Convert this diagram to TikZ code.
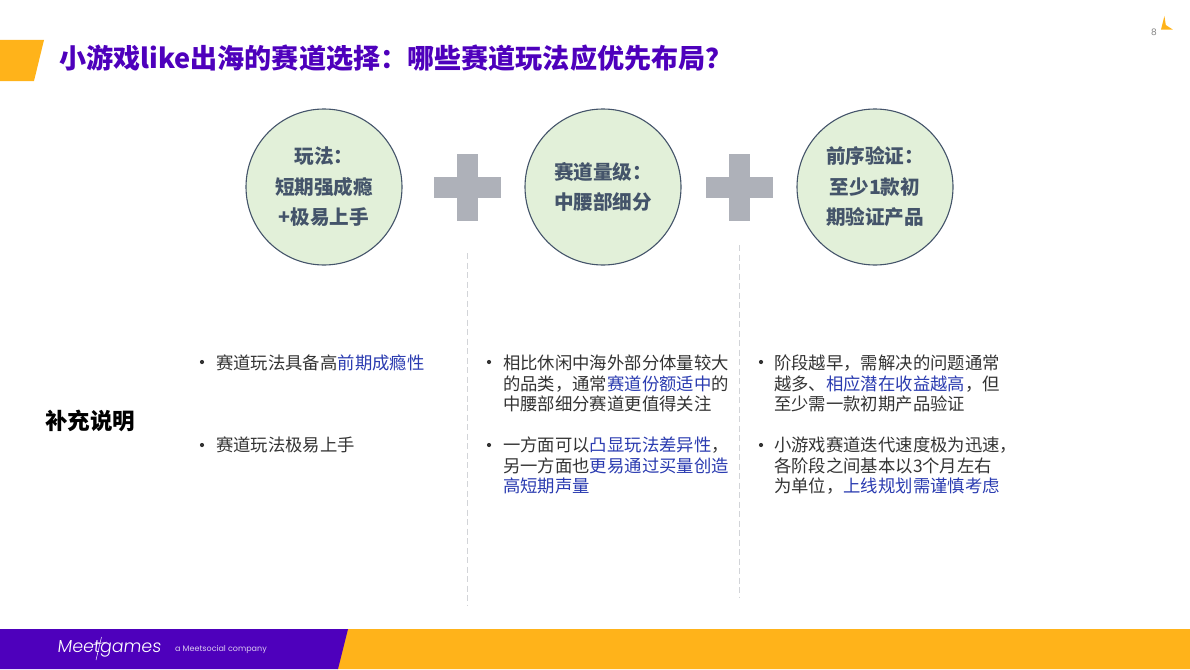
\documentclass[tikz,border=0pt]{standalone}
\usepackage{fontspec}
\setmainfont{Noto Sans CJK SC}
\newfontfamily\lat{Poppins}
\newfontfamily\latlogo[FakeSlant=0.12]{Poppins Light}
\definecolor{purp}{HTML}{4E00BC}
\definecolor{gold}{HTML}{FFB31A}
\definecolor{circfill}{HTML}{E2F0D9}
\definecolor{circline}{HTML}{44546A}
\definecolor{plusc}{HTML}{AEB1B9}
\definecolor{bodyc}{HTML}{333333}
\definecolor{hl}{HTML}{2A3BB0}
\definecolor{dash}{HTML}{D2D4D8}
\newcommand{\hlt}[1]{\textcolor{hl}{#1}}
\tikzset{
 x=1pt,y=-1pt,
 circ/.style={circle,draw=circline,line width=1.1pt,fill=circfill,minimum size=156pt,inner sep=0pt},
 circtext/.style={font=\fontsize{19.6}{30.5}\selectfont\bfseries,text=circline,align=center,inner sep=0pt,anchor=center},
 plusbar/.style={fill=plusc,draw=none},
 sep/.style={draw=dash,line width=0.8pt,dash pattern=on 6pt off 3.5pt},
 bodytext/.style={font=\fontsize{17.35}{20.7}\selectfont,text=bodyc,align=left,inner sep=0pt,anchor=north west},
 bullet/.style={circle,fill=bodyc,minimum size=4.2pt,inner sep=0pt,draw=none},
}
\begin{document}
\begin{tikzpicture}
\useasboundingbox (0,0) rectangle (1190,669);
% header
\fill[gold] (0,40) -- (44,40) -- (34,81) -- (0,81) -- cycle;
\node[anchor=west,inner sep=0pt,text=purp,font=\fontsize{27.1}{30}\selectfont\bfseries] (title) at (59,58) {小游戏like出海的赛道选择：哪些赛道玩法应优先布局？};
\node[inner sep=0pt,text=gray,font=\lat\fontsize{9}{10}\selectfont] (page) at (1154,32) {8};
\fill[gold] (1164.4,16) -- (1165.8,25) -- (1172.8,29.6) -- (1161,29.6) -- cycle;
% footer
\fill[gold] (347,629) -- (1190,629) -- (1190,669) -- (337,669) -- cycle;
\fill[purp] (0,629) -- (348,629) -- (338,669) -- (0,669) -- cycle;
\node[anchor=west,inner sep=0pt,text=white,font=\latlogo\fontsize{17.4}{18}\selectfont] (logo) at (57,648.5) {Meetgames};
\draw[white,line width=0.5pt] (101.5,637) -- (96,660);
\draw[white,line width=0.5pt] (92,645) -- (107,642);
\node[anchor=west,inner sep=0pt,text=white!80!purp,font=\lat\fontsize{8}{9}\selectfont] (tag) at (175,649) {a Meetsocial company};
% circles
\node[circ] (c1) at (324,187) {};
\node[circ] (c2) at (603,187) {};
\node[circ] (c3) at (875,187) {};
\node[circtext] (t1) at (324,187) {玩法：\\短期强成瘾\\+极易上手};
\node[circtext] (t2) at (603,187) {赛道量级：\\中腰部细分};
\node[circtext] (t3) at (875,187) {前序验证：\\至少1款初\\期验证产品};
% plus signs
\fill[plusbar] (434,177) rectangle (501,198);
\fill[plusbar] (457,154) rectangle (478,221);
\fill[plusbar] (706,177) rectangle (773,198);
\fill[plusbar] (729,154) rectangle (750,221);
% separators
\draw[sep] (467.5,253) -- (467.5,605);
\draw[sep] (739.5,245) -- (739.5,598);
% left label
\node[anchor=west,inner sep=0pt,text=black,font=\fontsize{22.5}{24}\selectfont\bfseries] (lab) at (45,421) {补充说明};
% column 1
\node[bullet] (b1) at (202,362) {};
\node[bodytext] (p1) at (216,354.5) {赛道玩法具备高\hlt{前期成瘾性}};
\node[bullet] (b2) at (202,445) {};
\node[bodytext] (p2) at (216,436.5) {赛道玩法极易上手};
% column 2
\node[bullet] (b3) at (489,362) {};
\node[bodytext] (p3) at (503,354.5) {相比休闲中海外部分体量较大\\的品类，通常\hlt{赛道份额适中}的\\中腰部细分赛道更值得关注};
\node[bullet] (b4) at (489,445) {};
\node[bodytext] (p4) at (503,436.5) {一方面可以\hlt{凸显玩法差异性}，\\另一方面也\hlt{更易通过买量创造}\\\hlt{高短期声量}};
% column 3
\node[bullet] (b5) at (761,362) {};
\node[bodytext] (p5) at (774,354.5) {阶段越早，需解决的问题通常\\越多、\hlt{相应潜在收益越高}，但\\至少需一款初期产品验证};
\node[bullet] (b6) at (761,445) {};
\node[bodytext] (p6) at (774,436.5) {小游戏赛道迭代速度极为迅速，\\各阶段之间基本以3个月左右\\为单位，\hlt{上线规划需谨慎考虑}};
\end{tikzpicture}
\end{document}
